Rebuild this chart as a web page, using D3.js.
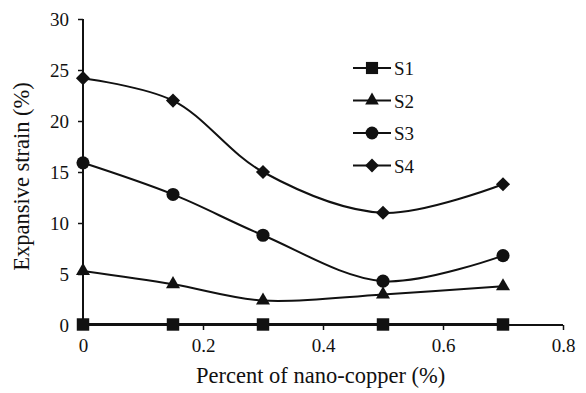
<!DOCTYPE html>
<html>
<head>
<meta charset="utf-8">
<script src="https://cdn.jsdelivr.net/npm/d3@7/dist/d3.min.js"></script>
<style>
  html, body { margin: 0; padding: 0; background: #fff; }
  svg { display: block; }
  text { font-family: "Liberation Serif", "Times New Roman", serif; fill: #111; }
</style>
</head>
<body>
<svg id="chart" width="586" height="393"></svg>
<script>
// Nano-copper dosage (%) and expansive strain (%) per sample group
const dosage = [0, 0.15, 0.3, 0.5, 0.7];
const s1 = [0.05, 0.05, 0.05, 0.05, 0.05];
const s2 = [5.3, 4.0, 2.4, 3.0, 3.8];
const s3 = [15.9, 12.8, 8.8, 4.3, 6.8];
const s4 = [24.2, 22.0, 15.0, 11.0, 13.8];
const seriesNames = ["S1", "S2", "S3", "S4"];
const xTicks = [0, 0.2, 0.4, 0.6, 0.8];
const yTicks = [0, 5, 10, 15, 20, 25, 30];

// Square turned 45 degrees, equal width and height
const rotatedSquare = {
  draw(ctx, size) {
    const r = Math.sqrt(size) / Math.SQRT2;
    ctx.moveTo(0, -r); ctx.lineTo(r, 0); ctx.lineTo(0, r); ctx.lineTo(-r, 0); ctx.closePath();
  }
};

const series = [
  { name: seriesNames[0], values: s1, symbol: d3.symbolSquare, size: 155 },
  { name: seriesNames[1], values: s2, symbol: d3.symbolTriangle, size: 85 },
  { name: seriesNames[2], values: s3, symbol: d3.symbolCircle, size: 135 },
  { name: seriesNames[3], values: s4, symbol: rotatedSquare, size: 100 }
];

const svg = d3.select("#chart");
const margin = { left: 83, right: 23, top: 19, bottom: 68 };
const W = 586, H = 393;

const x = d3.scaleLinear().domain([0, 0.8]).range([margin.left, W - margin.right]);
const y = d3.scaleLinear().domain([0, 30]).range([H - margin.bottom, margin.top]);

// Axes
const xAxis = svg.append("g")
  .attr("transform", `translate(0,${y(0)})`)
  .call(d3.axisBottom(x).tickValues(xTicks).tickFormat(d3.format("")).tickSize(5).tickPadding(9));
const yAxis = svg.append("g")
  .attr("transform", `translate(${x(0)},0)`)
  .call(d3.axisLeft(y).tickValues(yTicks).tickSize(5).tickPadding(9));

[xAxis, yAxis].forEach(g => {
  g.attr("font-family", null);
  g.select(".domain").attr("stroke", "#111").attr("stroke-width", 2);
  g.selectAll(".tick line").attr("stroke", "#111").attr("stroke-width", 1.5);
  g.selectAll(".tick text").style("font-size", "19px").attr("fill", "#111");
});
yAxis.select(".domain").attr("d", `M0,${y(30)}V${y(0)}`);
xAxis.select(".domain").attr("d", `M${x(0)},0H${x(0.8)}`);

// Axis titles
svg.append("text")
  .attr("x", 196)
  .attr("y", 383)
  .style("font-size", "22.5px")
  .text("Percent of nano-copper (%)");
svg.append("text")
  .attr("transform", `translate(29,${(78 + 275) / 2}) rotate(-90)`)
  .attr("text-anchor", "middle")
  .style("font-size", "22.5px")
  .text("Expansive strain (%)");

// Smoothed series lines with markers
const line = d3.line()
  .x((d, i) => x(dosage[i]))
  .y(d => y(d))
  .curve(d3.curveCatmullRom.alpha(0.5));

series.forEach((s, k) => {
  svg.append("path")
    .attr("d", line(s.values))
    .attr("fill", "none")
    .attr("stroke", "#111")
    .attr("stroke-width", k === 0 ? 2.8 : 2);
  svg.append("g").selectAll("path")
    .data(s.values)
    .join("path")
    .attr("transform", (d, i) => `translate(${x(dosage[i])},${y(d)})`)
    .attr("d", d3.symbol().type(s.symbol).size(s.size))
    .attr("fill", "#111");
});

// Legend
const legend = svg.append("g").attr("transform", "translate(353,68)");
series.forEach((s, k) => {
  const row = legend.append("g").attr("transform", `translate(0,${k * 32.5})`);
  row.append("line").attr("x1", 0).attr("x2", 38).attr("stroke", "#111").attr("stroke-width", 2.2);
  row.append("path").attr("transform", "translate(19,0)")
    .attr("d", d3.symbol().type(s.symbol).size(s.size * 0.95)).attr("fill", "#111");
  row.append("text").attr("x", 41).attr("y", 7).style("font-size", "19px").text(s.name);
});
</script>
</body>
</html>
